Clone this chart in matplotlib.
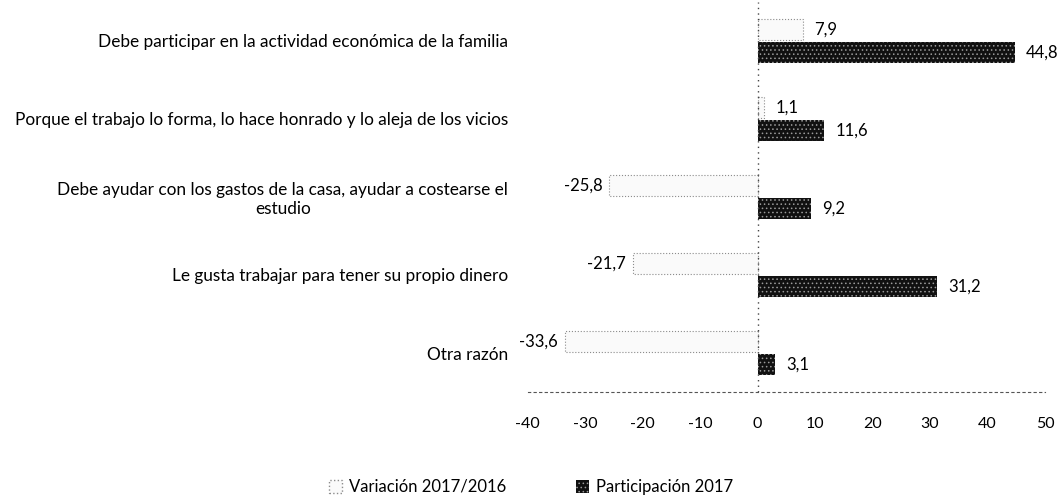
import matplotlib
matplotlib.use("Agg")
import matplotlib.pyplot as plt
import numpy as np
from matplotlib.patches import Patch

plt.rcParams['font.family'] = ['Lato', 'DejaVu Sans']
plt.rcParams['hatch.linewidth'] = 0.6
plt.rcParams['axes.unicode_minus'] = False

categorias = [
    "Debe participar en la actividad económica de la familia",
    "Porque el trabajo lo forma, lo hace honrado y lo aleja de los vicios",
    "Debe ayudar con los gastos de la casa, ayudar a costearse el\nestudio",
    "Le gusta trabajar para tener su propio dinero",
    "Otra razón",
]
variacion = [7.9, 1.1, -25.8, -21.7, -33.6]
participacion = [44.8, 11.6, 9.2, 31.2, 3.1]


def fmt(v):
    return f"{v:.1f}".replace(".", ",")


fig = plt.figure(figsize=(10.62, 5.0), dpi=100)
ax = fig.add_axes([0.497, 0.216, 0.487, 0.78])

y = np.arange(len(categorias))
h = 0.27
off = 0.145

ax.barh(y - off, variacion, height=h, color="#fafafa", edgecolor="#8c8c8c",
        linestyle=":", linewidth=0.8, zorder=2)
ax.barh(y + off, participacion, height=h, color="#111111", edgecolor="#9a9a9a",
        hatch="....", linewidth=0, zorder=2)

for yi, v in zip(y - off, variacion):
    if v >= 0:
        ax.annotate(fmt(v), (v, yi), xytext=(8, 0), textcoords="offset points",
                    ha="left", va="center", fontsize=12)
    else:
        ax.annotate(fmt(v), (v, yi), xytext=(-5, 0), textcoords="offset points",
                    ha="right", va="center", fontsize=12, annotation_clip=False)
for yi, v in zip(y + off, participacion):
    ax.annotate(fmt(v), (v, yi), xytext=(8, 0), textcoords="offset points",
                ha="left", va="center", fontsize=12)

ax.set_xlim(-40, 50)
ax.set_ylim(len(categorias) - 0.5, -0.5)
ax.set_xticks(np.arange(-40, 51, 10))
ax.tick_params(axis="x", length=0, pad=18, labelsize=11.5)
ax.set_yticks(y)
ax.set_yticklabels(categorias, fontsize=12.4, multialignment="center")
ax.tick_params(axis="y", length=0, pad=14)

for s in ["top", "right", "left"]:
    ax.spines[s].set_visible(False)
ax.spines["bottom"].set_linestyle((0, (2, 3)))
ax.spines["bottom"].set_color("#555555")
ax.spines["bottom"].set_linewidth(0.8)
ax.axvline(0, color="#444444", linestyle=(0, (1, 3)), linewidth=1.0, zorder=3)

handles = [
    Patch(facecolor="#fafafa", edgecolor="#8c8c8c", linestyle=":", label="Variación 2017/2016"),
    Patch(facecolor="#111111", edgecolor="#9a9a9a", hatch="....", linewidth=0, label="Participación 2017"),
]
fig.legend(handles=handles, loc="lower center", bbox_to_anchor=(0.5, -0.02), ncol=2,
           frameon=False, fontsize=12, handlelength=0.8, handleheight=0.8,
           columnspacing=4.2, handletextpad=0.4)

fig.savefig("out.png", dpi=100, facecolor="white")
